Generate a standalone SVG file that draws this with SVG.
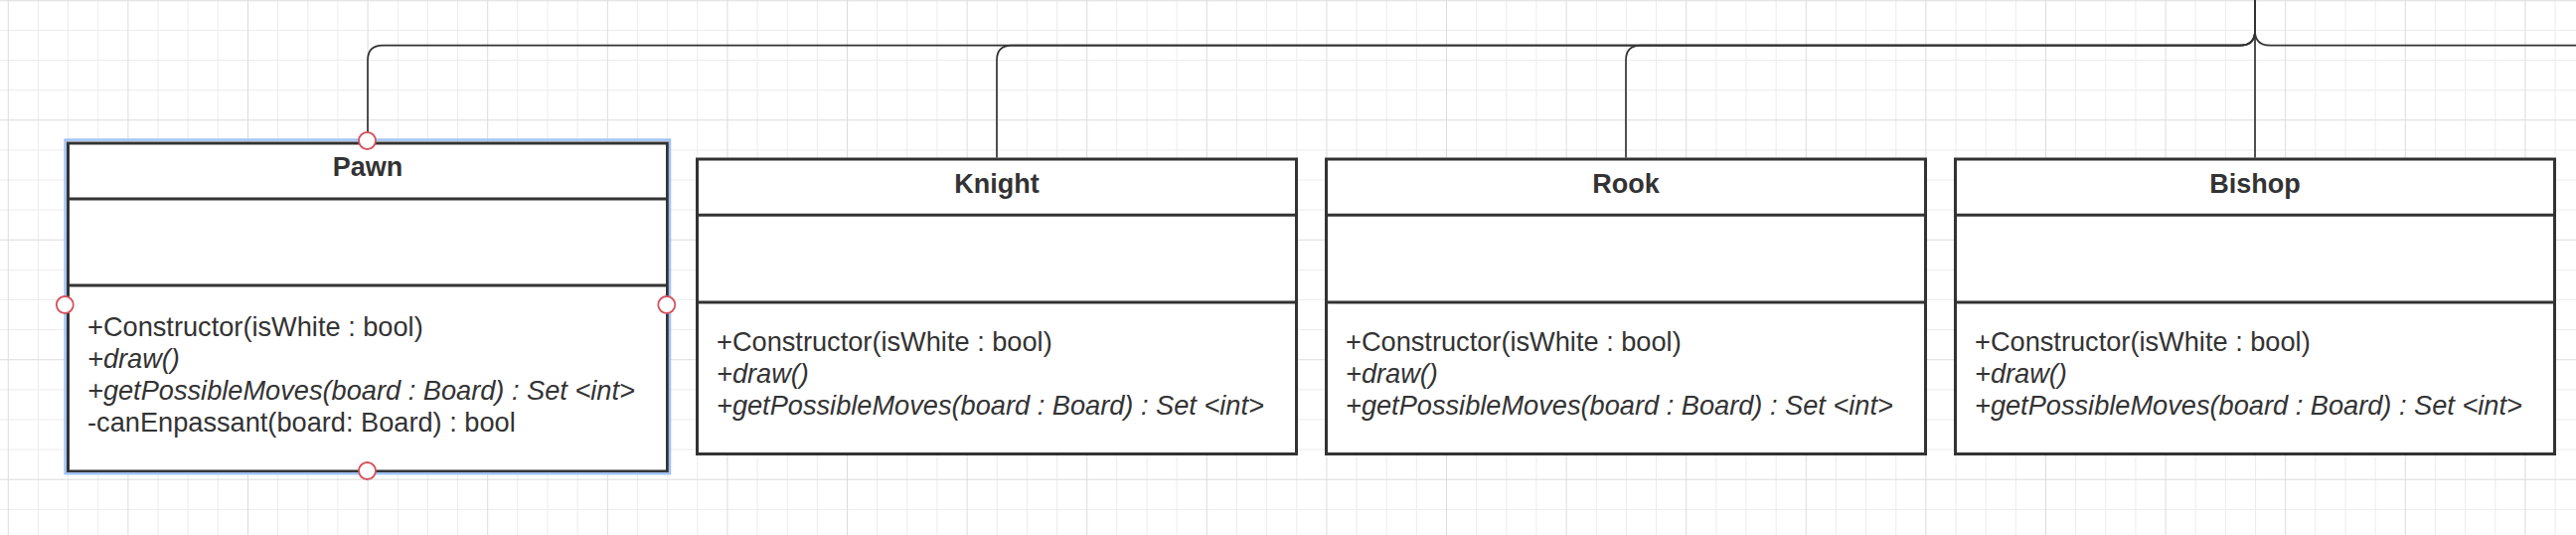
<svg xmlns="http://www.w3.org/2000/svg" width="2592" height="538" viewBox="0 0 2592 538">
  <style>
    .minor { stroke: #ececec; stroke-width: 1; fill: none; }
    .major { stroke: #dcdcdc; stroke-width: 1; fill: none; }
    .box { fill: #ffffff; stroke: #333333; stroke-width: 3; }
    .div { stroke: #333333; stroke-width: 3; }
    .conn { fill: none; stroke: #333333; stroke-width: 1.7; }
    .title { font-family: "Liberation Sans", Arial, sans-serif; font-size: 27px; font-weight: bold; fill: #333333; text-anchor: middle; }
    .m { font-family: "Liberation Sans", Arial, sans-serif; font-size: 27.2px; fill: #333333; }
    .i { font-style: italic; }
    .sel { fill: none; stroke: #a0c2f4; stroke-width: 2.5; }
    .handle { fill: #ffffff; stroke: #d4525c; stroke-width: 1.8; }
  </style>
  <rect x="0" y="0" width="2592" height="538" fill="#ffffff"/>
  <g id="grid">
    <path class="minor" d="M38.45 0V538M68.6 0V538M98.75 0V538M159.05 0V538M189.2 0V538M219.35 0V538M279.65 0V538M309.8 0V538M339.95 0V538M400.25 0V538M430.4 0V538M460.55 0V538M520.85 0V538M551 0V538M581.15 0V538M641.45 0V538M671.6 0V538M701.75 0V538M762.05 0V538M792.2 0V538M822.35 0V538M882.65 0V538M912.8 0V538M942.95 0V538M1003.25 0V538M1033.4 0V538M1063.55 0V538M1123.85 0V538M1154 0V538M1184.15 0V538M1244.45 0V538M1274.6 0V538M1304.75 0V538M1365.05 0V538M1395.2 0V538M1425.35 0V538M1485.65 0V538M1515.8 0V538M1545.95 0V538M1606.25 0V538M1636.4 0V538M1666.55 0V538M1726.85 0V538M1757 0V538M1787.15 0V538M1847.45 0V538M1877.6 0V538M1907.75 0V538M1968.05 0V538M1998.2 0V538M2028.35 0V538M2088.65 0V538M2118.8 0V538M2148.95 0V538M2209.25 0V538M2239.4 0V538M2269.55 0V538M2329.85 0V538M2360 0V538M2390.15 0V538M2450.45 0V538M2480.6 0V538M2510.75 0V538M2571.05 0V538M0 30.42H2592M0 60.54H2592M0 90.66H2592M0 150.9H2592M0 181.02H2592M0 211.14H2592M0 271.38H2592M0 301.5H2592M0 331.62H2592M0 391.86H2592M0 421.98H2592M0 452.1H2592M0 512.34H2592"/>
    <path class="major" d="M8.3 0V538M128.9 0V538M249.5 0V538M370.1 0V538M490.7 0V538M611.3 0V538M731.9 0V538M852.5 0V538M973.1 0V538M1093.7 0V538M1214.3 0V538M1334.9 0V538M1455.5 0V538M1576.1 0V538M1696.7 0V538M1817.3 0V538M1937.9 0V538M2058.5 0V538M2179.1 0V538M2299.7 0V538M2420.3 0V538M2540.9 0V538M0 0.8H2592M0 120.78H2592M0 241.26H2592M0 361.74H2592M0 482.22H2592"/>
  </g>
  <g id="connectors">
    <path class="conn" d="M370 141.5V60.6Q370 45.6 385 45.6H2254Q2269 45.6 2269 31V0"/>
    <path class="conn" d="M1003 158.5V60.6Q1003 45.6 1018 45.6H2254Q2269 45.6 2269 31V0"/>
    <path class="conn" d="M1636 158.5V60.6Q1636 45.6 1651 45.6H2254Q2269 45.6 2269 31V0"/>
    <path class="conn" d="M2269 158.5V0"/>
    <path class="conn" d="M2592 45.6H2284Q2269 45.6 2269 31V0"/>
  </g>
  <g id="pawn">
    <rect class="box" x="68.5" y="144" width="603" height="330"/>
    <line class="div" x1="68.5" y1="200" x2="671.5" y2="200"/>
    <line class="div" x1="68.5" y1="287" x2="671.5" y2="287"/>
    <text class="title" x="370" y="177">Pawn</text>
    <text class="m" x="88" y="337.5">+Constructor(isWhite : bool)</text>
    <text class="m i" x="88" y="369.5">+draw()</text>
    <text class="m i" x="88" y="401.5">+getPossibleMoves(board : Board) : Set &lt;int&gt;</text>
    <text class="m" x="88" y="433.5">-canEnpassant(board: Board) : bool</text>
    <rect class="sel" x="65.6" y="140.6" width="608.4" height="335.6"/>
    <circle class="handle" cx="369.5" cy="141.5" r="8.5"/>
    <circle class="handle" cx="65.3" cy="306.5" r="8.5"/>
    <circle class="handle" cx="670.8" cy="306.5" r="8.5"/>
    <circle class="handle" cx="369.5" cy="473.5" r="8.5"/>
  </g>
  <g id="knight">
    <rect class="box" x="701.5" y="160" width="603" height="296.5"/>
    <line class="div" x1="701.5" y1="216.3" x2="1304.5" y2="216.3"/>
    <line class="div" x1="701.5" y1="304" x2="1304.5" y2="304"/>
    <text class="title" x="1003" y="193.5">Knight</text>
    <text class="m" x="721" y="353">+Constructor(isWhite : bool)</text>
    <text class="m i" x="721" y="385">+draw()</text>
    <text class="m i" x="721" y="417">+getPossibleMoves(board : Board) : Set &lt;int&gt;</text>
  </g>
  <g id="rook">
    <rect class="box" x="1334.5" y="160" width="603" height="296.5"/>
    <line class="div" x1="1334.5" y1="216.3" x2="1937.5" y2="216.3"/>
    <line class="div" x1="1334.5" y1="304" x2="1937.5" y2="304"/>
    <text class="title" x="1636" y="193.5">Rook</text>
    <text class="m" x="1354" y="353">+Constructor(isWhite : bool)</text>
    <text class="m i" x="1354" y="385">+draw()</text>
    <text class="m i" x="1354" y="417">+getPossibleMoves(board : Board) : Set &lt;int&gt;</text>
  </g>
  <g id="bishop">
    <rect class="box" x="1967.5" y="160" width="603" height="296.5"/>
    <line class="div" x1="1967.5" y1="216.3" x2="2570.5" y2="216.3"/>
    <line class="div" x1="1967.5" y1="304" x2="2570.5" y2="304"/>
    <text class="title" x="2269" y="193.5">Bishop</text>
    <text class="m" x="1987" y="353">+Constructor(isWhite : bool)</text>
    <text class="m i" x="1987" y="385">+draw()</text>
    <text class="m i" x="1987" y="417">+getPossibleMoves(board : Board) : Set &lt;int&gt;</text>
  </g>
</svg>
